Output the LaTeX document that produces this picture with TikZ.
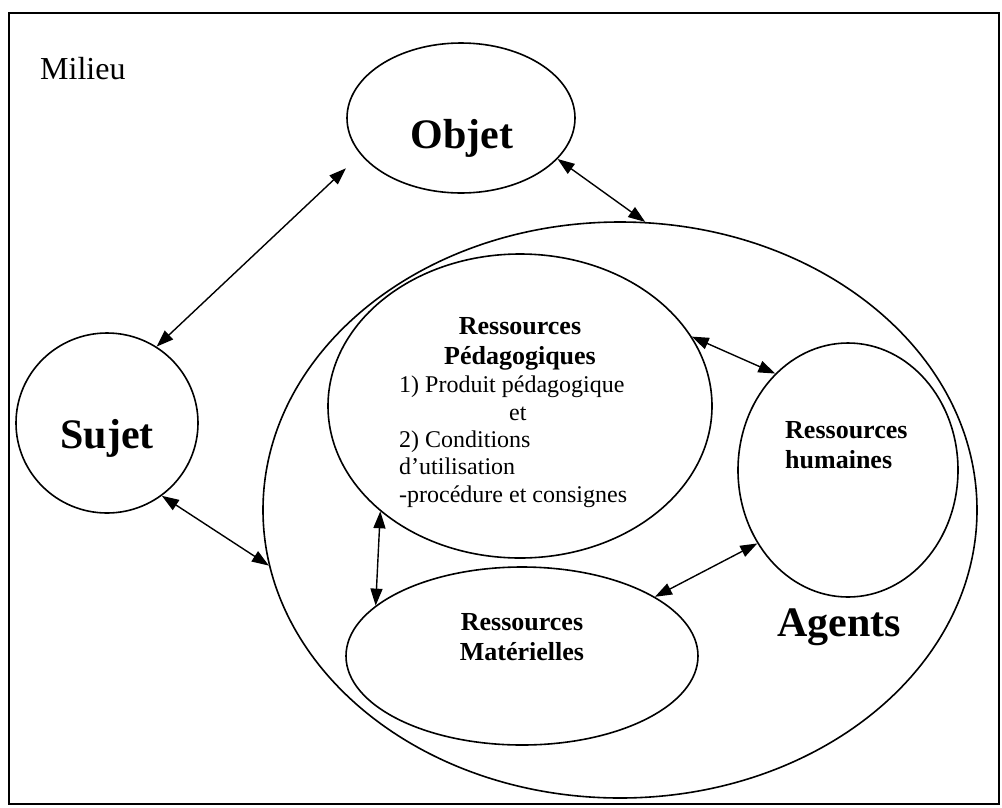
\documentclass[tikz,border=0pt]{standalone}
\usepackage{fontspec}
\setmainfont{Liberation Serif}
\usetikzlibrary{shapes.geometric,arrows.meta}

\begin{document}
\begin{tikzpicture}[x=1pt,y=-1pt]
        \tikzstyle{zone}=[ellipse,draw,line width=1.6pt,inner sep=0pt]
        \tikzstyle{lien}=[line width=1.4pt,{Triangle[length=17pt,width=12pt]}-{Triangle[length=17pt,width=12pt]}]
        \tikzstyle{titre}=[font=\bfseries\fontsize{42}{48}\selectfont,inner sep=0pt]
        \tikzstyle{sous}=[font=\bfseries\fontsize{26}{29.5}\selectfont,inner sep=0pt]
        \tikzstyle{liste}=[font=\fontsize{24}{27.3}\selectfont,inner sep=0pt,align=left]
        \useasboundingbox (0,0) rectangle (1002,807);
        \draw[line width=2pt] (9,13) rectangle (999,804);
        \node[anchor=base west,inner sep=0pt,font=\fontsize{32}{38}\selectfont] (milieu) at (40,79) {Milieu};
        % les ellipses
        \node[zone,minimum width=228pt,minimum height=150pt] (objet) at (461,118) {};
        \node[zone,minimum width=182pt,minimum height=180pt] (sujet) at (107,423) {};
        \node[zone,minimum width=714pt,minimum height=576pt] (agents) at (620,510) {};
        \node[zone,minimum width=384pt,minimum height=304pt] (pedago) at (520,406) {};
        \node[zone,minimum width=220pt,minimum height=254pt] (humaines) at (848,470) {};
        \node[zone,minimum width=352pt,minimum height=178pt] (materiel) at (522,656) {};
        % les textes (base = derniere ligne)
        \node[titre,anchor=base] (tobjet) at (462,148) {Objet};
        \node[titre,anchor=base] (tsujet) at (107,448) {Sujet};
        \node[titre,anchor=base west] (tagents) at (777,636) {Agents};
        \node[sous,anchor=base,align=center] (tpedago) at (520,364) {Ressources\\Pédagogiques};
        \node[liste,anchor=base west] (lpedago) at (399,502) {1) Produit pédagogique\\\hspace*{110pt}et\\2) Conditions\\d’utilisation\\-procédure et consignes};
        \node[sous,anchor=base west,align=left] (thumaines) at (785,468) {Ressources\\humaines};
        \node[sous,anchor=base,align=center] (tmateriel) at (522,660) {Ressources\\Matérielles};
        % les liens
        \draw[lien,shorten >=20pt] (sujet.57) -- (objet.200);
        \draw[lien] (objet.337) -- (agents.85);
        \draw[lien] (sujet.307) -- (agents.189);
        \draw[lien] (pedago.22) -- (humaines.127);
        \draw[lien] (pedago.217) -- (materiel.161);
        \draw[lien] (materiel.24) -- (humaines.219);
\end{tikzpicture}
\end{document}
